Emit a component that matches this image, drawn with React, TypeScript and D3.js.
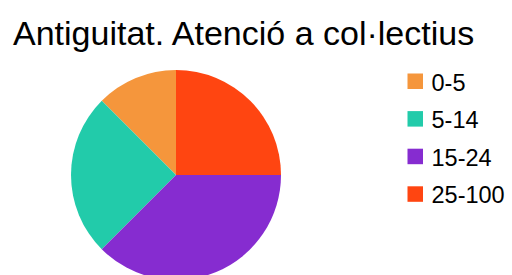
import React from "react";
import * as d3 from "d3";

const categories = ["0-5", "5-14", "15-24", "25-100"];
const values = [1, 2, 3, 2];
const colors = ["#f5963c", "#22cbaa", "#862cd0", "#ff4511"];
const title = "Antiguitat. Atenció a col·lectius";

export default function App() {
  const width = 512;
  const height = 275;
  const cx = 176;
  const cy = 175;
  const r = 105;
  const pie = d3
    .pie<number>()
    .sort(null)
    .startAngle(0)
    .endAngle(-2 * Math.PI);
  const arcs = pie(values);
  const arc = d3.arc<d3.PieArcDatum<number>>().innerRadius(0).outerRadius(r);
  const font = "'Liberation Sans', Arial, sans-serif";
  return (
    <svg
      width={width}
      height={height}
      style={{ position: "absolute", left: 0, top: 0 }}
      fontFamily={font}
    >
      <rect width={width} height={height} fill="#ffffff" />
      <text x={13} y={45} fontSize={34} fill="#000">
        {title}
      </text>
      <g transform={`translate(${cx},${cy})`}>
        {arcs.map((a, i) => (
          <path key={i} d={arc(a) || ""} fill={colors[i]} />
        ))}
      </g>
      {categories.map((c, i) => (
        <g key={c} transform={`translate(407.5,${73.5 + i * 37.6})`}>
          <rect width={15.5} height={15.5} fill={colors[i]} />
          <text x={24} y={17} fontSize={23.5} fill="#000">
            {c}
          </text>
        </g>
      ))}
    </svg>
  );
}
